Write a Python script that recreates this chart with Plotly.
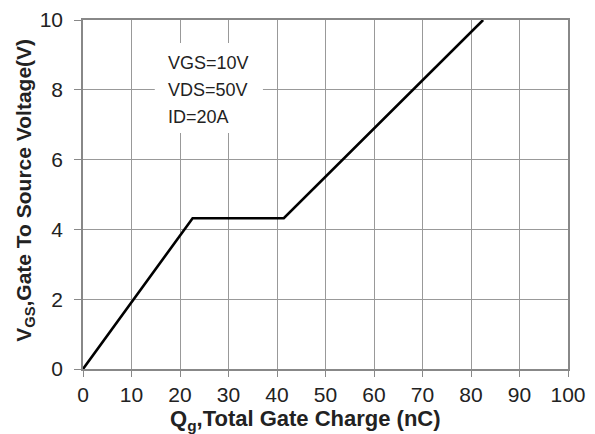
import plotly.graph_objects as go

qg = [0, 22.6, 41.4, 82.5]
vgs = [0, 4.32, 4.32, 10]
x_ticks = [0, 10, 20, 30, 40, 50, 60, 70, 80, 90, 100]
y_ticks = [0, 2, 4, 6, 8, 10]
note_lines = ["VGS=10V", "VDS=50V", "ID=20A"]

FONT = "Liberation Sans, Arial"

fig = go.Figure()
fig.add_trace(go.Scatter(x=qg, y=vgs, mode="lines",
                         line=dict(color="black", width=2.6), showlegend=False))

# white box behind the conditions text
fig.add_shape(type="rect", xref="x", yref="y", x0=14.8, x1=37.1, y0=6.76, y1=9.34,
              fillcolor="white", line=dict(width=0), layer="above")
for i, t in enumerate(note_lines):
    fig.add_annotation(x=17.2, y=8.78 - 0.78 * i, xref="x", yref="y", text=t,
                       showarrow=False, xanchor="left", yanchor="middle",
                       font=dict(family=FONT, size=18, color="#222"))

axis_common = dict(showgrid=True, gridcolor="#999", gridwidth=1.2,
                   showline=True, linecolor="#888", linewidth=1.5, mirror=True,
                   ticks="outside", tickcolor="#888", zeroline=False, automargin=False,
                   tickfont=dict(family=FONT, size=21, color="#222"))

fig.update_xaxes(range=[0, 100], tickvals=x_ticks, ticklen=6, **axis_common)
fig.update_yaxes(range=[0, 10], tickvals=y_ticks, ticklen=7, ticklabelstandoff=7,
                 **axis_common)

fig.add_annotation(x=0.459, y=-0.145, xref="paper", yref="paper", showarrow=False,
                   xanchor="center", yanchor="middle",
                   text="<b>Q<sub>g</sub>,Total Gate Charge (nC)</b>",
                   font=dict(family=FONT, size=22, color="#222"))
fig.add_annotation(x=-0.12, y=0.513, xref="paper", yref="paper", showarrow=False,
                   xanchor="center", yanchor="middle", textangle=-90,
                   text="<b>V<sub>GS</sub>,Gate To Source Voltage(V)</b>",
                   font=dict(family=FONT, size=21, color="#222"))

fig.update_layout(width=595, height=434, margin=dict(l=83, r=27, t=20, b=65),
                  plot_bgcolor="white", paper_bgcolor="white")

fig.write_html("out.html", config={"displayModeBar": False},
               post_script="document.body.style.margin='0';document.body.style.overflow='hidden';")
